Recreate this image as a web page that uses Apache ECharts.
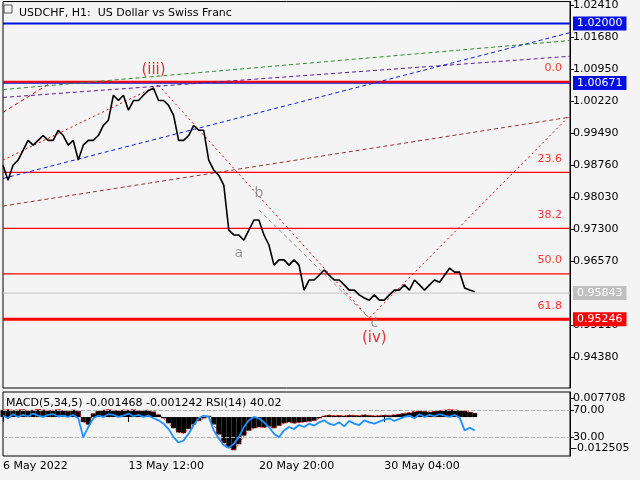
<!DOCTYPE html>
<html><head><meta charset="utf-8">
<script src="https://cdn.jsdelivr.net/npm/echarts@6/dist/echarts.min.js"></script>
<style>html,body{margin:0;padding:0;background:#f4f4f4}#c{width:640px;height:480px}</style>
</head><body><div id="c"></div>
<script>
const closes=[0.9876,0.9842,0.9876,0.9888,0.9910,0.9933,0.9922,0.9933,0.9944,0.9933,
0.9933,0.9956,0.9944,0.9922,0.9933,0.9888,0.9922,0.9933,0.9933,0.9944,
0.9967,0.9979,1.0036,1.0024,1.0036,1.0002,1.0024,1.0024,1.0036,1.0047,
1.0052,1.0024,1.0024,1.0013,0.9990,0.9933,0.9933,0.9944,0.9967,0.9956,
0.9956,0.9888,0.9865,0.9853,0.9831,0.9728,0.9717,0.9717,0.9705,0.9728,
0.9751,0.9751,0.9717,0.9694,0.9648,0.9660,0.9660,0.9648,0.9660,0.9648,
0.9591,0.9614,0.9614,0.9625,0.9637,0.9625,0.9614,0.9614,0.9603,0.9591,
0.9591,0.9580,0.9573,0.9568,0.9580,0.9568,0.9568,0.9580,0.9591,0.9591,
0.9603,0.9591,0.9614,0.9603,0.9591,0.9603,0.9614,0.9609,0.9625,0.9641,
0.9632,0.9632,0.9596,0.9591,0.9587];
const macd=[2.8,3.0,2.7,2.9,3.0,2.6,2.8,3.1,2.9,2.7,2.8,3.0,2.6,2.4,2.9,2.5,
-2.0,-3.0,
1.5,2.5,2.8,3.0,2.7,2.6,2.9,2.8,3.0,2.5,2.7,2.8,2.2,1.0,
-0.5,-2.5,-4.5,-6.2,-6.5,-4.8,-3.0,-1.5,-0.5,0.5,
-3,-7,-10.5,-12.5,-13.4,-11,-7.5,-5.5,-4.5,-4,-4.2,-3.8,-4.5,-3.5,-2.5,-2,-2.5,-2.2,-2,-1.8,-1.5,-0.5,
0.5,0.8,0.6,0.7,0.5,0.8,0.7,0.6,0.9,0.7,0.5,0.6,0.8,0.7,0.9,1.2,1.5,
1.8,2.2,2.5,2.3,2.0,2.4,2.6,2.8,3.0,2.9,2.7,2.5,2.0,1.6].map(v=>v/1000);
const rsi=[62,58,64,60,63,61,65,62,60,63,64,61,62,60,63,58,
30,45,
58,62,60,64,63,60,62,65,61,63,60,62,58,55,
50,42,30,22,25,35,48,58,62,60,
40,28,18,14,20,30,45,55,60,58,52,45,35,30,40,45,42,48,45,50,47,52,
55,50,48,52,46,54,50,48,55,52,50,53,56,58,54,57,60,
62,58,64,60,63,61,64,62,60,63,59,40,44,40];
const priceTicks=[1.02410,1.01680,1.00950,1.00220,0.99490,0.98760,0.98030,0.97300,0.96570,0.95110,0.94380];
const dateLabels=["6 May 2022","13 May 12:00","20 May 20:00","30 May 04:00"];
const dateIdx=[0,25,51,76];
const N=114;
const fibLevels=[1.00671,0.98599,0.97318,0.96282,0.95246];
const fibNames=["0.0","23.6","38.2","50.0","61.8"];
const levelLines=[
 {v:1.02000,c:'#0010e0',w:2,badge:'1.02000'},
 {v:1.00640,c:'#0010e0',w:1.5,badge:'1.00671'},
 {v:0.95843,c:'#c0c0c0',w:1,badge:'0.95843'}
];
const trends=[
 {c:'#e00000',d:[[0,0.9997],[10,1.0068]],t:'dashed'},
 {c:'#e00000',d:[[0,0.9888],[30.8,1.0059]],t:'dotted'},
 {c:'#e00000',d:[[30.8,1.0059],[73.4,0.9527],[113,0.9990]],t:'dotted'},
 {c:'#2e8b2e',d:[[0,1.0049],[113,1.0161]],t:'dashed'},
 {c:'#5a1aa0',d:[[0,1.0031],[113,1.0125]],t:'dashed'},
 {c:'#0a1ee0',d:[[0,0.9846],[113,1.0179]],t:'dashed'},
 {c:'#a03030',d:[[0,0.9783],[113,0.9986]],t:'dashed'},
 {c:'#909090',d:[[51,0.9774],[73.4,0.9527]],t:'dashed'}
];
const waveLabels=[
 {n:'(iii)',x:30,v:1.0093,c:'#e00000',s:15},
 {n:'a',x:46.8,v:0.9676,c:'#808080',s:14},
 {n:'b',x:51.4,v:0.9812,c:'#808080',s:14},
 {n:'c',x:74,v:0.9516,c:'#808080',s:14},
 {n:'(iv)',x:74,v:0.9482,c:'#e00000',s:15}
];
const cats=[];for(let i=0;i<N;i++){const k=dateIdx.indexOf(i);cats.push(k>=0?dateLabels[k]:'');}
const F='DejaVu Sans';
const badge=(txt,bg)=>({show:true,formatter:txt,color:'#fff',backgroundColor:bg,padding:[2,4,1,4],fontFamily:F,fontSize:11,distance:3});
const series=[];
levelLines.forEach(l=>series.push({type:'line',xAxisIndex:0,yAxisIndex:0,data:[[0,l.v],[N-1,l.v]],symbol:'none',silent:true,z:2,
 lineStyle:{color:l.c,width:l.w},endLabel:badge(l.badge,l.c)}));
fibLevels.forEach((v,i)=>series.push({type:'line',xAxisIndex:0,yAxisIndex:0,data:[[0,v],[N-1,v]],symbol:'none',silent:true,z:2,
 lineStyle:{color:'#ff0000',width:i==4?3:(i==0?2:1.3)},endLabel:i==4?badge('0.95246','#ff0000'):{show:false}}));
series.push({type:'scatter',xAxisIndex:0,yAxisIndex:0,symbolSize:0,z:6,silent:true,
 data:fibLevels.map((v,i)=>({value:[N-1,v],label:{show:true,formatter:fibNames[i],position:'insideBottomRight',offset:[-3,-3],align:'right',verticalAlign:'bottom',color:'#ff0000',fontSize:11,fontFamily:F}}))});
trends.forEach(t=>series.push({type:'line',xAxisIndex:0,yAxisIndex:0,data:t.d,symbol:'none',silent:true,lineStyle:{color:t.c,width:1,type:t.t==='dotted'?[2,3]:[4,3]},z:3}));
series.push({type:'line',xAxisIndex:0,yAxisIndex:0,data:closes,symbol:'none',lineStyle:{color:'#000',width:1.6},z:5});
series.push({type:'scatter',xAxisIndex:0,yAxisIndex:0,symbolSize:0,z:6,silent:true,
 data:waveLabels.map(w=>({value:[w.x,w.v],label:{show:true,formatter:w.n,color:w.c,fontSize:w.s,fontFamily:F,position:'inside'}}))});
series.push({type:'bar',xAxisIndex:1,yAxisIndex:1,data:macd,barCategoryGap:'0%',itemStyle:{color:'#000'}});
series.push({type:'line',xAxisIndex:1,yAxisIndex:1,data:macd,symbol:'none',lineStyle:{color:'#ff0000',width:1,type:[2,2]},z:4});
series.push({type:'line',xAxisIndex:1,yAxisIndex:2,data:rsi,symbol:'none',lineStyle:{color:'#1e90ff',width:1.8},z:5,
 markLine:{symbol:'none',silent:true,data:[{yAxis:70},{yAxis:30}],lineStyle:{color:'#b0b0b0',type:'dashed',width:1},label:{show:false}}});
const chart=echarts.init(document.getElementById('c'));
chart.setOption({
 animation:false,backgroundColor:'#f4f4f4',
 textStyle:{fontFamily:F},
 title:{text:'USDCHF, H1:  US Dollar vs Swiss Franc',left:14,top:3,textStyle:{fontSize:11,fontWeight:'normal',color:'#000',fontFamily:F}},
 grid:[{left:3,right:70,top:1,height:387,show:true,borderColor:'#000',borderWidth:1,backgroundColor:'#f4f4f4'},
       {left:3,right:70,top:392,height:64,show:true,borderColor:'#000',borderWidth:1,backgroundColor:'#f4f4f4'}],
 xAxis:[{type:'category',gridIndex:0,data:cats,boundaryGap:false,show:false},
        {type:'category',gridIndex:1,data:cats,boundaryGap:false,axisLine:{show:false},
         axisTick:{show:true,interval:(i,v)=>v!=='',length:5,lineStyle:{color:'#000'}},
         axisLabel:{interval:(i,v)=>v!=='',color:'#000',fontSize:11,fontFamily:F,align:'left',margin:5}}],
 yAxis:[{type:'value',gridIndex:0,position:'right',min:0.93674,max:1.0250,splitLine:{show:false},
         axisLine:{show:true,lineStyle:{color:'#000'}},axisTick:{show:true,customValues:priceTicks,length:4,lineStyle:{color:'#000'}},
         axisLabel:{customValues:priceTicks,formatter:v=>v.toFixed(5),color:'#000',fontSize:11,fontFamily:F,margin:3}},
        {type:'value',gridIndex:1,position:'right',min:-0.01574,max:0.01013,splitLine:{show:false},
         axisLine:{show:true,lineStyle:{color:'#000'}},axisTick:{show:true,customValues:[0.007708,-0.012505],length:4,lineStyle:{color:'#000'}},
         axisLabel:{customValues:[0.007708,-0.012505],formatter:v=>v.toFixed(6),color:'#000',fontSize:11,fontFamily:F,margin:3}},
        {type:'value',gridIndex:1,position:'right',min:2,max:97,splitLine:{show:false},axisLine:{show:false},
         axisTick:{show:true,customValues:[70,30],length:4,lineStyle:{color:'#000'}},
         axisLabel:{customValues:[70,30],formatter:v=>v.toFixed(2),color:'#000',fontSize:11,fontFamily:F,margin:3}}],
 graphic:[{type:'text',left:6,top:398,style:{text:'MACD(5,34,5) -0.001468 -0.001242 RSI(14) 40.02',fontSize:11,fontFamily:F,fill:'#000'},z:100},
          {type:'rect',shape:{x:4,y:5,width:8,height:8},style:{fill:'none',stroke:'#555'},z:100}],
 series
});
</script></body></html>
